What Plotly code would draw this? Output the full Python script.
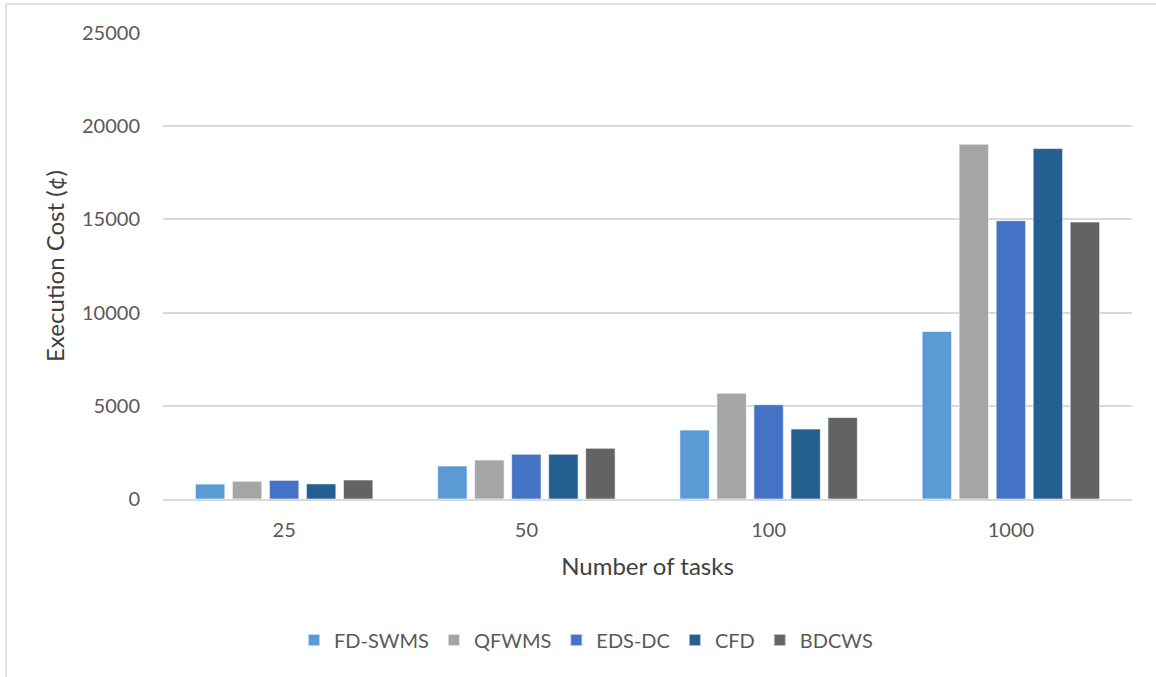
import plotly.graph_objects as go

categories = ["25", "50", "100", "1000"]
fd_swms = [800, 1770, 3700, 8990]
qfwms = [950, 2090, 5670, 19030]
eds_dc = [1000, 2400, 5060, 14930]
cfd = [810, 2400, 3750, 18800]
bdcws = [1020, 2720, 4370, 14860]

series_names = ["FD-SWMS", "QFWMS", "EDS-DC", "CFD", "BDCWS"]
series_values = [fd_swms, qfwms, eds_dc, cfd, bdcws]
colors = ["#5B9BD5", "#A5A5A5", "#4472C4", "#255E91", "#636363"]

FONT = "Lato"
TXT = "#595959"

fig = go.Figure()
for name, vals, col in zip(series_names, series_values, colors):
    fig.add_trace(go.Bar(
        x=categories, y=vals, name=name,
        marker=dict(color=col, line=dict(color="rgba(255,255,255,0.6)", width=1)),
    ))

W, H = 1156, 677
L, R, T, B = 163, 24, 33, 178
pw, ph = W - L - R, H - T - B

def px2x(px):
    return (px - L) / pw

def py2y(py):
    return (H - B - py) / ph

fig.update_layout(
    width=W, height=H,
    margin=dict(l=L, r=R, t=T, b=B),
    paper_bgcolor="white", plot_bgcolor="white",
    barmode="group", bargap=0.236, bargroupgap=0.205,
    font=dict(family=FONT, color=TXT, size=20),
    showlegend=True,
    legend=dict(orientation="h", x=px2x(586), xanchor="center",
                y=py2y(640), yanchor="middle",
                font=dict(family=FONT, size=20, color=TXT),
                itemsizing="constant", traceorder="normal"),
    xaxis=dict(
        type="category",
        showgrid=False, showline=True, linecolor="#D9D9D9", linewidth=1.5,
        ticks="", tickfont=dict(family=FONT, size=20, color=TXT),
        ticklabelstandoff=12,
        title=dict(text="Number of tasks", font=dict(family=FONT, size=24, color="#404040"),
                   standoff=18),
    ),
    yaxis=dict(
        range=[0, 25000], dtick=5000, tick0=0, tickformat="d",
        showgrid=True, gridcolor="#D9D9D9", gridwidth=1.5,
        zeroline=False, showline=False,
        ticks="", tickfont=dict(family=FONT, size=20, color=TXT),
        ticklabelstandoff=22,
        title=dict(text="Execution Cost (¢)", font=dict(family=FONT, size=24, color="#404040"),
                   standoff=10),
    ),
    shapes=[
        dict(type="line", xref="paper", yref="paper",
             x0=px2x(6), x1=px2x(1160), y0=py2y(4), y1=py2y(4),
             line=dict(color="#D9D9D9", width=1.5)),
        dict(type="line", xref="paper", yref="paper",
             x0=px2x(6), x1=px2x(6), y0=py2y(4), y1=py2y(680),
             line=dict(color="#D9D9D9", width=1.5)),
    ],
)

fig.write_html("out.html")
